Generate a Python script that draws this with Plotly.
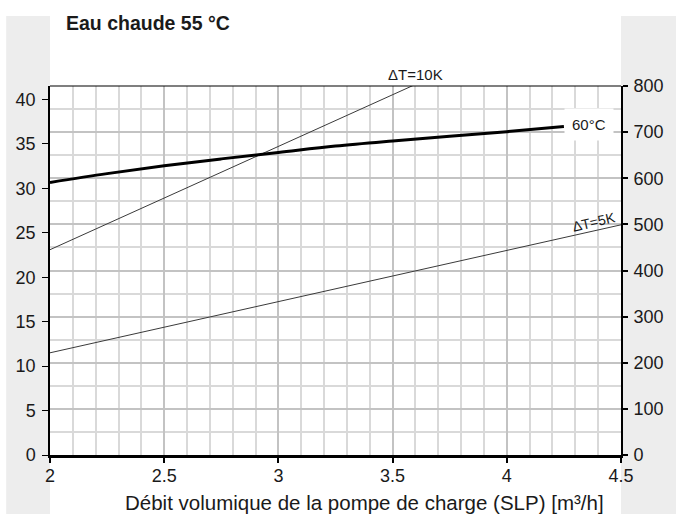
import plotly.graph_objects as go

# ---- data ----
flow = [2.0, 2.25, 2.5, 2.75, 3.0, 3.25, 3.5, 3.75, 4.0, 4.25]
vol_60c = [591, 610, 627, 642, 656, 670, 681, 691, 701, 712]   # right axis

flow_10k = [2.0, 3.6]
power_10k = [23.1, 41.7]   # left axis

flow_5k = [2.0, 4.5]
power_5k = [11.5, 25.9]    # left axis

x_ticks = [2, 2.5, 3, 3.5, 4, 4.5]
x_ticklabels = ["2", "2.5", "3", "3.5", "4", "4.5"]
left_ticks = [0, 5, 10, 15, 20, 25, 30, 35, 40]
right_ticks = [0, 100, 200, 300, 400, 500, 600, 700, 800]

title_text = "Eau chaude 55 °C"
xaxis_title = "Débit volumique de la pompe de charge (SLP) [m³/h]"

FONT = "Liberation Sans, Arial, sans-serif"
GRID_MAJOR = "#c3c3c3"
GRID_MINOR = "#d9d9d9"
STRIP = "#ededed"
TXT = "#1a1a1a"

fig = go.Figure()

fig.add_trace(go.Scatter(x=flow_10k, y=power_10k, mode="lines",
                         line=dict(color="#3a3a3a", width=1), yaxis="y",
                         showlegend=False, hoverinfo="skip"))
fig.add_trace(go.Scatter(x=flow_5k, y=power_5k, mode="lines",
                         line=dict(color="#3a3a3a", width=1), yaxis="y",
                         showlegend=False, hoverinfo="skip"))
fig.add_trace(go.Scatter(x=flow, y=vol_60c, mode="lines",
                         line=dict(color="black", width=3, shape="spline"),
                         yaxis="y2", showlegend=False, hoverinfo="skip"))

fig.update_layout(
    width=676, height=514,
    margin=dict(l=50, r=52, t=86, b=59),
    paper_bgcolor="white", plot_bgcolor="white",
    font=dict(family=FONT, size=18, color=TXT),
    xaxis=dict(
        range=[2, 4.5], tickvals=x_ticks, ticktext=x_ticklabels,
        showgrid=True, gridcolor=GRID_MAJOR, gridwidth=2,
        minor=dict(dtick=0.1, showgrid=True, gridcolor=GRID_MINOR, gridwidth=1.5,
                   ticks=""),
        showline=True, linecolor="black", linewidth=2.5,
        ticks="outside", ticklen=5, tickwidth=1.5, tickcolor="black",
        zeroline=False, ticklabelstandoff=-2,
    ),
    yaxis=dict(
        range=[0, 41.52], tickvals=left_ticks,
        showgrid=False, zeroline=False,
        showline=True, linecolor="black", linewidth=1.5,
        ticks="outside", ticklen=6, tickwidth=1.3, tickcolor="black",
        ticklabelstandoff=3,
    ),
    yaxis2=dict(
        range=[0, 800], tickvals=right_ticks, overlaying="y", side="right",
        showgrid=True, gridcolor=GRID_MAJOR, gridwidth=2,
        minor=dict(dtick=50, showgrid=True, gridcolor=GRID_MINOR, gridwidth=1.5,
                   ticks=""),
        zeroline=False,
        showline=True, linecolor="black", linewidth=2,
        ticks="outside", ticklen=5, tickwidth=1.5, tickcolor="black",
        ticklabelstandoff=2,
    ),
    shapes=[
        # grey side strips
        dict(type="rect", xref="paper", yref="paper", x0=-0.0767, x1=0.0,
             y0=-0.161, y1=1.19, fillcolor=STRIP, line=dict(width=0), layer="below"),
        dict(type="rect", xref="paper", yref="paper", x0=1.0, x1=1.1, y0=-0.161,
             y1=1.19, fillcolor=STRIP, line=dict(width=0), layer="below"),
        # top frame line
        dict(type="line", xref="paper", yref="paper", x0=0, x1=1, y0=1, y1=1,
             line=dict(color="black", width=1.2)),
    ],
    annotations=[
        dict(text="<b>" + title_text + "</b>", xref="paper", yref="paper",
             x=0.024, y=1.171, xanchor="left", yanchor="middle", showarrow=False,
             font=dict(size=19.5, color=TXT)),
        dict(text=xaxis_title, xref="paper", yref="paper", x=0.551, y=-0.13,
             xanchor="center", yanchor="middle", showarrow=False,
             font=dict(size=20.5, color=TXT)),
        dict(text="ΔT=10K", xref="x", yref="paper", x=3.6, y=1.0,
             xanchor="center", yanchor="bottom", yshift=1, showarrow=False,
             font=dict(size=15, color=TXT)),
        dict(text="60°C", xref="x", yref="y2", x=4.36, y=716,
             xanchor="center", yanchor="middle", showarrow=False,
             bgcolor="white", borderpad=7,
             font=dict(size=15, color=TXT)),
        dict(text="ΔT=5K", xref="x", yref="y", x=4.38, y=26.2,
             xanchor="center", yanchor="middle", textangle=-13, showarrow=False,
             font=dict(size=14, color=TXT)),
    ],
)

fig.write_html("out.html")
